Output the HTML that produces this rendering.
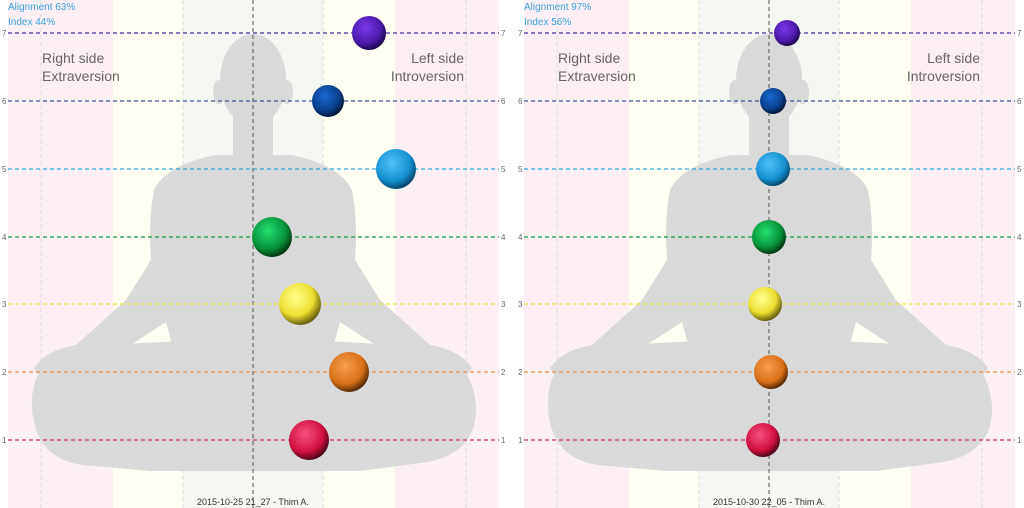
<!DOCTYPE html>
<html><head><meta charset="utf-8"><style>
html,body{margin:0;padding:0;background:#fff;}
svg{display:block;font-family:"Liberation Sans",sans-serif;}
</style></head><body>
<svg width="1024" height="508" viewBox="0 0 1024 508">
<defs>
<radialGradient id="gpu" cx="0.4" cy="0.35" r="0.65"><stop offset="0" stop-color="#7a3ae8"/><stop offset="0.7" stop-color="#4a1aa8"/><stop offset="1" stop-color="#1e0850"/></radialGradient>
<radialGradient id="gna" cx="0.4" cy="0.35" r="0.65"><stop offset="0" stop-color="#1a6ad0"/><stop offset="0.7" stop-color="#083e8a"/><stop offset="1" stop-color="#021838"/></radialGradient>
<radialGradient id="gbl" cx="0.4" cy="0.35" r="0.65"><stop offset="0" stop-color="#50c0f8"/><stop offset="0.7" stop-color="#1590d0"/><stop offset="1" stop-color="#064870"/></radialGradient>
<radialGradient id="ggr" cx="0.4" cy="0.35" r="0.65"><stop offset="0" stop-color="#20e070"/><stop offset="0.7" stop-color="#089038"/><stop offset="1" stop-color="#023a14"/></radialGradient>
<radialGradient id="gye" cx="0.4" cy="0.35" r="0.65"><stop offset="0" stop-color="#ffff90"/><stop offset="0.65" stop-color="#ece030"/><stop offset="1" stop-color="#6a6010"/></radialGradient>
<radialGradient id="gor" cx="0.4" cy="0.35" r="0.65"><stop offset="0" stop-color="#f8a050"/><stop offset="0.7" stop-color="#d87018"/><stop offset="1" stop-color="#5a2a04"/></radialGradient>
<radialGradient id="gre" cx="0.4" cy="0.35" r="0.65"><stop offset="0" stop-color="#f85080"/><stop offset="0.7" stop-color="#d01040"/><stop offset="1" stop-color="#500418"/></radialGradient>
<g id="panel">
<rect x="8" y="0" width="105" height="508" fill="#fcf0f4"/>
<rect x="113" y="0" width="70" height="508" fill="#fefef2"/>
<rect x="183" y="0" width="140" height="508" fill="#f4f7f2"/>
<rect x="323" y="0" width="72" height="508" fill="#fefef2"/>
<rect x="395" y="0" width="104" height="508" fill="#fcf0f4"/>
<g stroke="#dcdcdc" stroke-dasharray="4,3" stroke-width="1">
<line x1="41" y1="0" x2="41" y2="508"/><line x1="183" y1="0" x2="183" y2="508"/>
<line x1="323" y1="0" x2="323" y2="508"/><line x1="466" y1="0" x2="466" y2="508"/>
</g>
<g fill="#d9d9d9">
<ellipse cx="253" cy="80" rx="33" ry="46"/>
<ellipse cx="219" cy="92" rx="6" ry="12"/><ellipse cx="287" cy="92" rx="6" ry="12"/>
<rect x="233" y="110" width="40" height="55"/>
<path d="M215 155 L291 155 Q340 165 352 190 Q358 220 355 260 L380 300 L430 345 Q460 350 472 368 L462 382 L420 374 L340 322 L333 348 L173 348 L166 322 L86 374 L44 382 L34 368 Q46 350 76 345 L126 300 L151 260 Q148 220 154 190 Q166 165 215 155 Z"/>
<path d="M62 350 Q30 368 32 408 Q35 458 82 465 L150 471 L360 471 L428 462 Q478 452 476 405 Q472 366 442 350 Q360 340 253 340 Q146 340 62 350 Z"/>
</g>
<line x1="253" y1="0" x2="253" y2="508" stroke="#555" stroke-dasharray="4,3"/>
<g stroke-dasharray="4,3" stroke-width="1.2">
<line x1="8" y1="33" x2="499" y2="33" stroke="#4a2aa0"/>
<line x1="8" y1="101" x2="499" y2="101" stroke="#3a5a90"/>
<line x1="8" y1="169" x2="499" y2="169" stroke="#30a8e0"/>
<line x1="8" y1="237" x2="499" y2="237" stroke="#10a040"/>
<line x1="8" y1="304" x2="499" y2="304" stroke="#f0e030"/>
<line x1="8" y1="372" x2="499" y2="372" stroke="#f09040"/>
<line x1="8" y1="440" x2="499" y2="440" stroke="#d03060"/>
</g>
<g font-size="8" fill="#666">
<text x="2" y="36">7</text><text x="2" y="104">6</text><text x="2" y="172">5</text><text x="2" y="240">4</text><text x="2" y="307">3</text><text x="2" y="375">2</text><text x="2" y="443">1</text>
<text x="501" y="36">7</text><text x="501" y="104">6</text><text x="501" y="172">5</text><text x="501" y="240">4</text><text x="501" y="307">3</text><text x="501" y="375">2</text><text x="501" y="443">1</text>
</g>
<g font-size="14" fill="#666">
<text x="42" y="63">Right side</text><text x="42" y="81">Extraversion</text>
<text x="464" y="63" text-anchor="end">Left side</text><text x="464" y="81" text-anchor="end">Introversion</text>
</g>
</g>
</defs>
<use href="#panel"/>
<use href="#panel" transform="translate(516,0)"/>
<g font-size="10" fill="#3aa0e0">
<text x="8" y="10">Alignment 63%</text><text x="8" y="25">Index 44%</text>
<text x="524" y="10">Alignment 97%</text><text x="524" y="25">Index 56%</text>
</g>
<g font-size="9" fill="#333" text-anchor="middle">
<text x="253" y="505">2015-10-25 21_27 - Thim A.</text>
<text x="769" y="505">2015-10-30 22_05 - Thim A.</text>
</g>
<circle cx="369" cy="33" r="17" fill="url(#gpu)"/>
<circle cx="328" cy="101" r="16" fill="url(#gna)"/>
<circle cx="396" cy="169" r="20" fill="url(#gbl)"/>
<circle cx="272" cy="237" r="20" fill="url(#ggr)"/>
<circle cx="300" cy="304" r="21" fill="url(#gye)"/>
<circle cx="349" cy="372" r="20" fill="url(#gor)"/>
<circle cx="309" cy="440" r="20" fill="url(#gre)"/>
<circle cx="787" cy="33" r="13" fill="url(#gpu)"/>
<circle cx="773" cy="101" r="13" fill="url(#gna)"/>
<circle cx="773" cy="169" r="17" fill="url(#gbl)"/>
<circle cx="769" cy="237" r="17" fill="url(#ggr)"/>
<circle cx="765" cy="304" r="17" fill="url(#gye)"/>
<circle cx="771" cy="372" r="17" fill="url(#gor)"/>
<circle cx="763" cy="440" r="17" fill="url(#gre)"/>
</svg>
</body></html>
